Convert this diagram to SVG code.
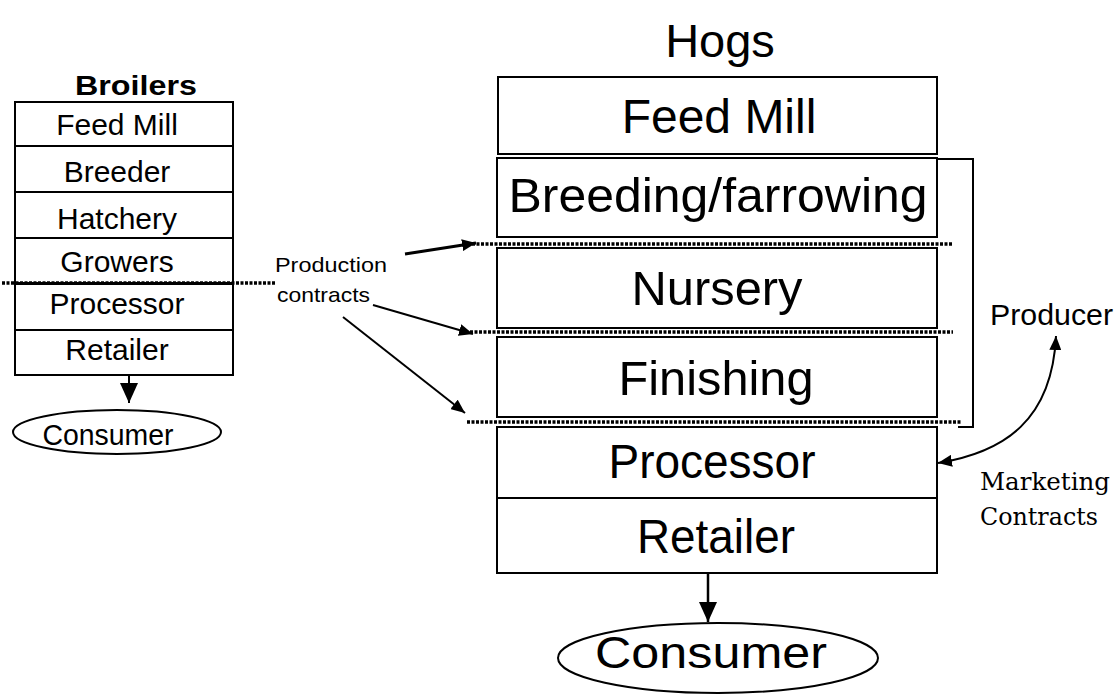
<svg xmlns="http://www.w3.org/2000/svg" width="1114" height="695" viewBox="0 0 1114 695">
<style>
.box{fill:#fff;stroke:#000;stroke-width:2}
.t{font-family:"Liberation Sans",Arial,sans-serif;fill:#000}
.big{font-size:48px;text-anchor:middle}
.sm{font-size:30px;text-anchor:middle}
.dot{stroke:#000;stroke-width:3.5;stroke-dasharray:3 1.5;fill:none}
.ln{stroke:#000;fill:none}
</style>
<defs>
<marker id="ah" markerUnits="userSpaceOnUse" markerWidth="22" markerHeight="20" refX="20" refY="10" orient="auto-start-reverse">
<path d="M0,1 L20,10 L0,19 Z" fill="#000"/>
</marker>
<marker id="ahs" markerUnits="userSpaceOnUse" markerWidth="16" markerHeight="12" refX="14" refY="6" orient="auto-start-reverse">
<path d="M0,0 L14,6 L0,12 Z" fill="#000"/>
</marker>
</defs>
<rect width="1114" height="695" fill="#fff"/>

<!-- Broilers -->
<text class="t" x="136" y="95" font-size="28" font-weight="bold" text-anchor="middle" textLength="122" lengthAdjust="spacingAndGlyphs">Broilers</text>
<g id="b-feedmill"><rect class="box" x="15" y="102" width="218" height="44"/><text class="t sm" x="117" y="135">Feed Mill</text></g>
<g id="b-breeder"><rect class="box" x="15" y="146" width="218" height="46"/><text class="t sm" x="117" y="182">Breeder</text></g>
<g id="b-hatchery"><rect class="box" x="15" y="192" width="218" height="46"/><text class="t sm" x="117" y="229">Hatchery</text></g>
<g id="b-growers"><rect class="box" x="15" y="238" width="218" height="45"/><text class="t sm" x="117" y="272">Growers</text></g>
<g id="b-processor"><rect class="box" x="15" y="284" width="218" height="46"/><text class="t sm" x="117" y="314">Processor</text></g>
<g id="b-retailer"><rect class="box" x="15" y="330" width="218" height="45"/><text class="t sm" x="117" y="360">Retailer</text></g>
<g id="b-consumer"><ellipse cx="117" cy="432" rx="104" ry="22" fill="#fff" stroke="#000" stroke-width="2"/><text class="t" x="108" y="445" font-size="29" text-anchor="middle" textLength="131" lengthAdjust="spacingAndGlyphs">Consumer</text></g>

<!-- Hogs -->
<text class="t" x="720" y="57" font-size="47" text-anchor="middle">Hogs</text>
<g id="h-feedmill"><rect class="box" x="498" y="77" width="439" height="77"/><text class="t big" x="719" y="133">Feed Mill</text></g>
<g id="h-breeding"><rect class="box" x="497" y="158" width="440" height="79"/><text class="t big" x="718" y="212" textLength="419" lengthAdjust="spacingAndGlyphs">Breeding/farrowing</text></g>
<g id="h-nursery"><rect class="box" x="497" y="248" width="440" height="80"/><text class="t big" x="717" y="305" textLength="171" lengthAdjust="spacingAndGlyphs">Nursery</text></g>
<g id="h-finishing"><rect class="box" x="497" y="337" width="440" height="80"/><text class="t big" x="716" y="395" textLength="195" lengthAdjust="spacingAndGlyphs">Finishing</text></g>
<g id="h-processor"><rect class="box" x="497" y="427" width="440" height="71"/><text class="t big" x="712" y="478" textLength="207" lengthAdjust="spacingAndGlyphs">Processor</text></g>
<g id="h-retailer"><rect class="box" x="497" y="498" width="440" height="75"/><text class="t big" x="716" y="553" textLength="158" lengthAdjust="spacingAndGlyphs">Retailer</text></g>
<g id="h-consumer"><ellipse cx="718" cy="658" rx="160" ry="35" fill="#fff" stroke="#000" stroke-width="2"/><text class="t" x="711" y="668" font-size="44" text-anchor="middle" textLength="232" lengthAdjust="spacingAndGlyphs">Consumer</text></g>

<!-- labels -->
<g id="lbl-production"><text class="t" x="275" y="272" font-size="21" textLength="112" lengthAdjust="spacingAndGlyphs">Production</text><text class="t" x="277" y="302" font-size="21" textLength="93" lengthAdjust="spacingAndGlyphs">contracts</text></g>
<g id="lbl-producer"><text class="t" x="990" y="325" font-size="30" textLength="123" lengthAdjust="spacingAndGlyphs">Producer</text></g>
<g id="lbl-marketing"><text x="980" y="490" font-family="'DejaVu Serif','Liberation Serif',serif" font-size="24" textLength="130" lengthAdjust="spacingAndGlyphs">Marketing</text><text x="980" y="525" font-family="'DejaVu Serif','Liberation Serif',serif" font-size="24" textLength="118" lengthAdjust="spacingAndGlyphs">Contracts</text></g>

<!-- connectors -->
<g id="connectors">
<path class="dot" d="M2,283 H275"/>
<path class="dot" d="M463,244 H953"/>
<path class="dot" d="M470,332 H953"/>
<path class="dot" d="M467,422 H962"/>
<path class="ln" stroke-width="2" d="M937,159 H973 V427 H958"/>
<line class="ln" stroke-width="2" x1="129" y1="375" x2="129" y2="403" marker-end="url(#ah)"/>
<line class="ln" stroke-width="2.5" x1="708" y1="573" x2="708" y2="622" marker-end="url(#ah)"/>
<line class="ln" stroke-width="3" x1="405" y1="254" x2="476" y2="243" marker-end="url(#ahs)"/>
<line class="ln" stroke-width="2" x1="373" y1="305" x2="473" y2="334" marker-end="url(#ahs)"/>
<line class="ln" stroke-width="2" x1="343" y1="317" x2="465" y2="413" marker-end="url(#ahs)"/>
<path class="ln" stroke-width="2" d="M1056,336 C1052,420 1005,452 938,463" marker-start="url(#ahs)" marker-end="url(#ahs)"/>
</g>
</svg>
